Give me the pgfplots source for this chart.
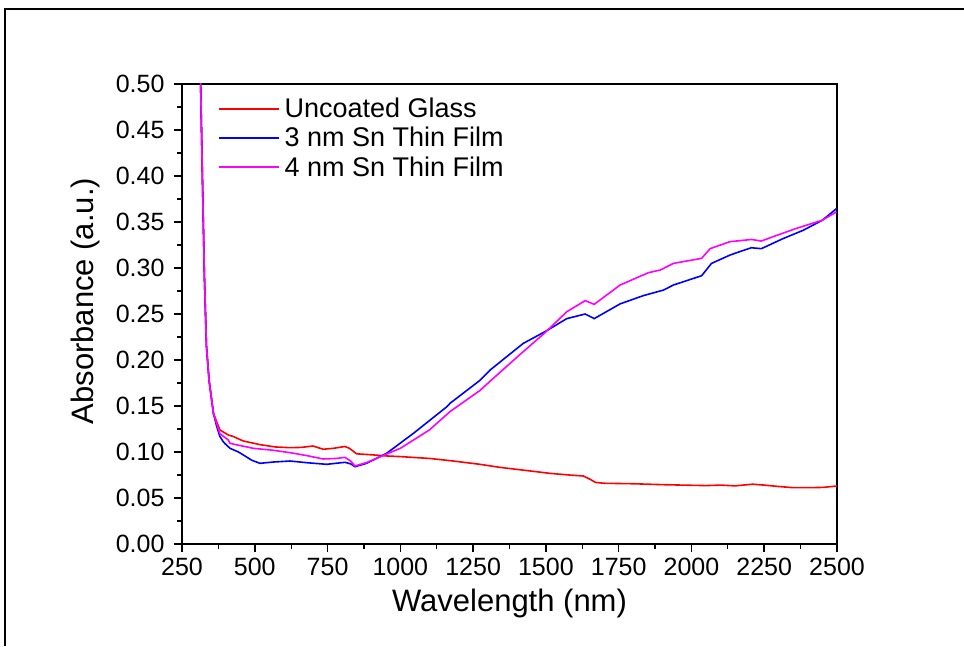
\documentclass[border=0pt]{standalone}
\usepackage{fontspec}
\setmainfont{Liberation Sans}
\usepackage{pgfplots}
\pgfplotsset{compat=1.18}
\definecolor{cRed}{RGB}{255,0,0}
\definecolor{cBlue}{RGB}{0,0,255}
\definecolor{cMag}{RGB}{255,0,255}
\begin{document}
\begin{tikzpicture}[x=1pt,y=1pt]
\useasboundingbox (0,0) rectangle (964,646);
\fill[white] (0,0) rectangle (964,646);
\draw[line width=2pt] (5,0) -- (5,637) -- (964,637);
\begin{axis}[
  at={(182pt,102pt)}, anchor=south west,
  scale only axis, width=655pt, height=460pt,
  xmin=250, xmax=2500, ymin=0, ymax=0.5,
  xtick={250,500,...,2500},
  ytick={0,0.05,...,0.5001},
  minor x tick num=1, minor y tick num=1,
  tick align=outside, xtick pos=bottom, ytick pos=left,
  major tick length=8pt, minor tick length=4.5pt,
  axis line style={line width=1.5pt},
  every tick/.style={line width=1.5pt, black},
  every minor tick/.style={line width=1.2pt, black},
  ticklabel style={font=\fontsize{25}{30}\selectfont},
  /pgf/number format/assume math mode=true,
  yticklabel style={xshift=-6pt, /pgf/number format/.cd, fixed, fixed zerofill, precision=2},
  xticklabel style={yshift=-3pt, /pgf/number format/.cd, 1000 sep={}},
  scaled y ticks=false,
  xlabel={Wavelength (nm)}, ylabel={Absorbance (a.u.)},
  label style={font=\fontsize{31}{36}\selectfont},
  xlabel style={at={(axis description cs:0.5,-0.13)}, anchor=center},
  ylabel style={at={(axis description cs:-0.148,0.528)}, anchor=center, rotate=0},
  legend style={draw=none, fill=none, at={(axis description cs:0.05,0.978)}, anchor=north west,
    font=\fontsize{27}{28}\selectfont, row sep=4pt, nodes={inner ysep=2pt, inner xsep=5pt}},
  legend cell align=left,
  legend image code/.code={\draw[#1, line width=1.6pt] plot coordinates {(0pt,0pt) (30pt,0pt) (60pt,0pt)};},
  every axis plot/.append style={line width=1.6pt},
]
\addplot[color=cRed, no markers] coordinates {
(312,0.56) (314,0.50) (320,0.40) (327,0.29) (334,0.215) (343,0.178) (358,0.142)
(369,0.133) (380,0.124) (409,0.1185) (425,0.117) (460,0.112) (518,0.108) (570,0.1055)
(621,0.1047) (660,0.105) (700,0.1065) (735,0.103) (770,0.104) (810,0.106) (825,0.104)
(850,0.098) (900,0.097) (953,0.0957) (1000,0.095) (1100,0.093) (1171,0.0906)
(1274,0.0866) (1342,0.0833) (1430,0.080) (1514,0.0768) (1580,0.075) (1629,0.0739)
(1652,0.0703) (1670,0.067) (1700,0.066) (1800,0.0655) (1900,0.0645) (2000,0.0638)
(2050,0.0635) (2100,0.064) (2150,0.0632) (2210,0.065) (2250,0.064) (2300,0.0625)
(2350,0.0612) (2400,0.0612) (2450,0.0615) (2500,0.063)
};
\addlegendentry{Uncoated Glass}
\addplot[color=cBlue, no markers] coordinates {
(312,0.56) (314,0.50) (320,0.40) (327,0.29) (334,0.215) (343,0.178) (358,0.142)
(369,0.128) (380,0.117) (392,0.111) (398,0.109) (415,0.104) (444,0.100) (461,0.0967)
(490,0.091) (518,0.0877) (564,0.0891) (621,0.0902) (678,0.0884) (747,0.0866)
(810,0.0888) (830,0.087) (844,0.084) (884,0.0877) (953,0.0986) (1045,0.1203)
(1159,0.149) (1171,0.153) (1274,0.178) (1308,0.189) (1422,0.218) (1498,0.231)
(1572,0.245) (1635,0.250) (1666,0.245) (1755,0.261) (1835,0.270) (1904,0.276)
(1938,0.2815) (2035,0.2916) (2069,0.305) (2132,0.314) (2177,0.319) (2206,0.322)
(2240,0.321) (2315,0.332) (2384,0.341) (2450,0.352) (2500,0.365)
};
\addlegendentry{3 nm Sn Thin Film}
\addplot[color=cMag, no markers] coordinates {
(312,0.56) (314,0.50) (320,0.40) (327,0.29) (334,0.215) (343,0.178) (358,0.142)
(369,0.131) (380,0.12) (409,0.113) (415,0.1094) (450,0.107) (495,0.104) (560,0.102)
(621,0.0993) (680,0.096) (735,0.0924) (780,0.093) (810,0.0942) (830,0.090)
(844,0.0848) (884,0.0885) (953,0.0978) (1000,0.104) (1050,0.114) (1100,0.124)
(1171,0.144) (1274,0.167) (1319,0.180) (1422,0.209) (1498,0.230) (1572,0.2525)
(1635,0.2645) (1666,0.2605) (1755,0.2815) (1852,0.2949) (1893,0.2978) (1938,0.305)
(2035,0.3105) (2064,0.321) (2132,0.3286) (2206,0.331) (2240,0.3293) (2280,0.334)
(2360,0.343) (2450,0.352) (2498,0.361)
};
\addlegendentry{4 nm Sn Thin Film}
\end{axis}
\end{tikzpicture}
\end{document}
